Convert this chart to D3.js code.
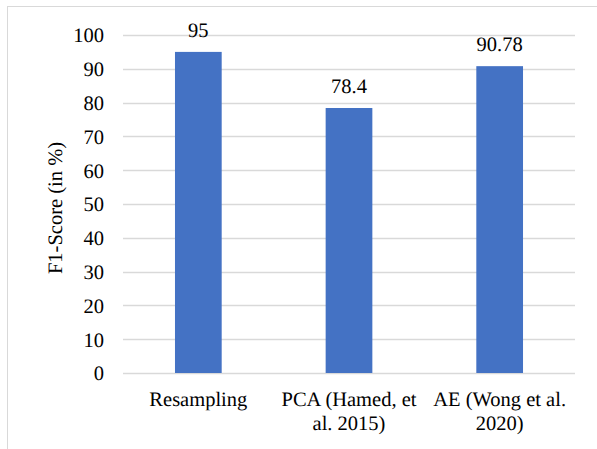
<!DOCTYPE html>
<html>
<head>
<meta charset="utf-8">
<script src="https://cdn.jsdelivr.net/npm/d3@7"></script>
</head>
<body style="margin:0;background:#fff">
<script>
// Chart data
const categories = ["Resampling", "PCA (Hamed, et al. 2015)", "AE (Wong et al. 2020)"];
const categoryLines = [["Resampling"], ["PCA (Hamed, et", "al. 2015)"], ["AE (Wong et al.", "2020)"]];
const f1Scores = [95, 78.4, 90.78];
const valueLabels = ["95", "78.4", "90.78"];
const yTicks = [0, 10, 20, 30, 40, 50, 60, 70, 80, 90, 100];
const yTitle = "F1-Score (in %)";

const W = 597, H = 449;
const margin = { left: 123, right: 22, top: 35, bottom: 76 };
const FONT = '"Liberation Serif"';
const FS = 20.5;

const svg = d3.select("body").append("svg")
  .attr("width", W).attr("height", H)
  .attr("text-rendering", "geometricPrecision")
  .style("display", "block");

// Chart-area frame
svg.append("rect")
  .attr("x", 7.5).attr("y", 6.5)
  .attr("width", W + 10).attr("height", H + 10)
  .attr("fill", "#fff").attr("stroke", "#d9d9d9").attr("stroke-width", 1);

const x = d3.scaleBand()
  .domain(categories)
  .range([margin.left, W - margin.right])
  .paddingInner(0.69).paddingOuter(0.345);

const y = d3.scaleLinear()
  .domain([0, 100])
  .range([H - margin.bottom, margin.top]);

// Gridlines
svg.append("g")
  .selectAll("line")
  .data(yTicks)
  .join("line")
  .attr("x1", margin.left).attr("x2", W - margin.right)
  .attr("y1", d => Math.round(y(d)) + 0.5).attr("y2", d => Math.round(y(d)) + 0.5)
  .attr("stroke", "#d9d9d9").attr("stroke-width", 1.3);

// Y axis labels
const yAxis = d3.axisLeft(y).tickValues(yTicks).tickSize(0).tickPadding(0);
const yg = svg.append("g")
  .attr("transform", `translate(${104},0)`)
  .call(yAxis);
yg.select(".domain").remove();
yg.selectAll("text")
  .style("font-family", FONT)
  .style("font-size", FS + "px")
  .attr("text-rendering", "geometricPrecision")
  .attr("fill", "#000")
  .attr("dy", "0.34em");

// Bars
svg.append("g")
  .selectAll("rect")
  .data(f1Scores)
  .join("rect")
  .attr("x", (d, i) => x(categories[i]))
  .attr("width", x.bandwidth())
  .attr("y", d => y(d))
  .attr("height", d => y(0) - y(d))
  .attr("fill", "#4472c4");

// Value labels
svg.append("g")
  .selectAll("text")
  .data(f1Scores)
  .join("text")
  .attr("x", (d, i) => x(categories[i]) + x.bandwidth() / 2)
  .attr("y", d => y(d) - 15)
  .attr("text-anchor", "middle")
  .style("font-family", FONT)
  .style("font-size", FS + "px")
  .attr("fill", "#000")
  .text((d, i) => valueLabels[i]);

// Category labels
const xl = svg.append("g")
  .selectAll("text")
  .data(categories)
  .join("text")
  .attr("x", d => x(d) + x.bandwidth() / 2)
  .attr("y", 406)
  .attr("text-anchor", "middle")
  .style("font-family", FONT)
  .style("font-size", FS + "px")
  .attr("fill", "#000");
xl.selectAll("tspan")
  .data((d, i) => categoryLines[i])
  .join("tspan")
  .attr("x", function () { return this.parentNode.getAttribute("x"); })
  .attr("dy", (d, j) => j === 0 ? 0 : 24)
  .text(d => d);

// Y axis title
svg.append("text")
  .attr("transform", `translate(62,${208}) rotate(-90)`)
  .attr("text-anchor", "middle")
  .style("font-family", FONT)
  .style("font-size", FS + "px")
  .attr("fill", "#000")
  .text(yTitle);
</script>
</body>
</html>
